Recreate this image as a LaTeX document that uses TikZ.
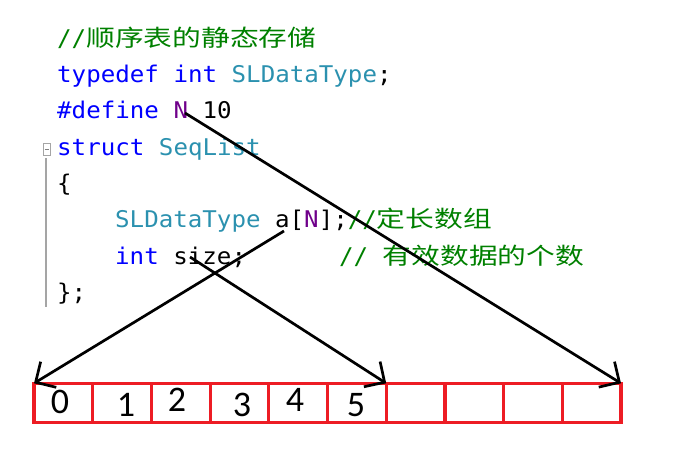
\documentclass[tikz,border=0pt]{standalone}
\usepackage{fontspec}
\newfontfamily\codefont{DejaVu Sans Mono}[FakeStretch=1.05]
\newfontfamily\cjkfont{Noto Sans CJK SC}[FakeStretch=1.25]
\newfontfamily\numfont{Carlito}
\usetikzlibrary{arrows.meta,positioning}
\definecolor{kwblue}{HTML}{0000FF}
\definecolor{typeteal}{HTML}{2B91AF}
\definecolor{macropurple}{HTML}{6F008A}
\definecolor{cmtgreen}{HTML}{008000}
\definecolor{cellred}{HTML}{ED1C24}
\definecolor{foldgray}{HTML}{A5A5A5}
\newcommand{\kwd}[1]{\textcolor{kwblue}{#1}}
\newcommand{\typ}[1]{\textcolor{typeteal}{#1}}
\newcommand{\mcr}[1]{\textcolor{macropurple}{#1}}
\newcommand{\cmt}[1]{\textcolor{cmtgreen}{#1}}
\newcommand{\zh}[1]{{\cjkfont #1}}
\begin{document}
\begin{tikzpicture}[x=1pt,y=-1pt,
  code/.style={anchor=base west,inner sep=0pt,font=\fontsize{23}{27}\selectfont\codefont},
  cell/.style={draw=cellred,line width=3.2pt,minimum width=58.7pt,minimum height=39.4pt,
    inner sep=0pt,outer sep=0pt},
  num/.style={inner sep=0pt,font=\fontsize{36}{40}\selectfont\numfont},
  ptr/.style={-{Straight Barb[length=15pt,width=30pt]},line width=2.7pt,black}]
\useasboundingbox (0,0) rectangle (685,448);
% code lines
\node[code] (l1) at (57,46) {\cmt{//\zh{顺序表的静态存储}}};
\node[code] (l2) at (57,82) {\kwd{typedef} \kwd{int} \typ{SLDataType};};
\node[code] (l3) at (57,118) {\kwd{\#define} \mcr{N} 10};
\node[code] (l4) at (57,155) {\kwd{struct} \typ{SeqList}};
\node[code] (l5) at (57,191) {\{};
\node[code] (l6) at (115,227) {\typ{SLDataType} a[\mcr{N}];\cmt{//\zh{定长数组}}};
\node[code] (l7) at (115,264) {\kwd{int} size;};
\node[code] (l7c) at (339,264) {\cmt{// \zh{有效数据的个数}}};
\node[code] (l8) at (57,300) {\};};
% fold marker
\draw[foldgray,line width=1.2pt] (46,158) -- (46,307);
\draw[foldgray,line width=0.8pt] (43,143) rectangle (50,155);
\draw[gray,line width=1pt] (44.5,149) -- (48.5,149);
% array
\foreach \i in {0,...,9}
  \node[cell] (c\i) at ({34+58.7*(\i+0.5)},403) {};
\node[num] (n0) at (60,402) {0};
\node[num] (n1) at (126,405) {1};
\node[num] (n2) at (177,400) {2};
\node[num] (n3) at (242,405) {3};
\node[num] (n4) at (295,400) {4};
\node[num] (n5) at (356,405) {5};
% pointers
\coordinate (nsrc) at (185,113);
\coordinate (asrc) at (284,231);
\coordinate (ssrc) at (190,257);
\draw[ptr] (nsrc) -- (c9.north east);
\draw[ptr] (asrc) -- (c0.north west);
\draw[ptr] (ssrc) -- (c6.north west);
\end{tikzpicture}
\end{document}
